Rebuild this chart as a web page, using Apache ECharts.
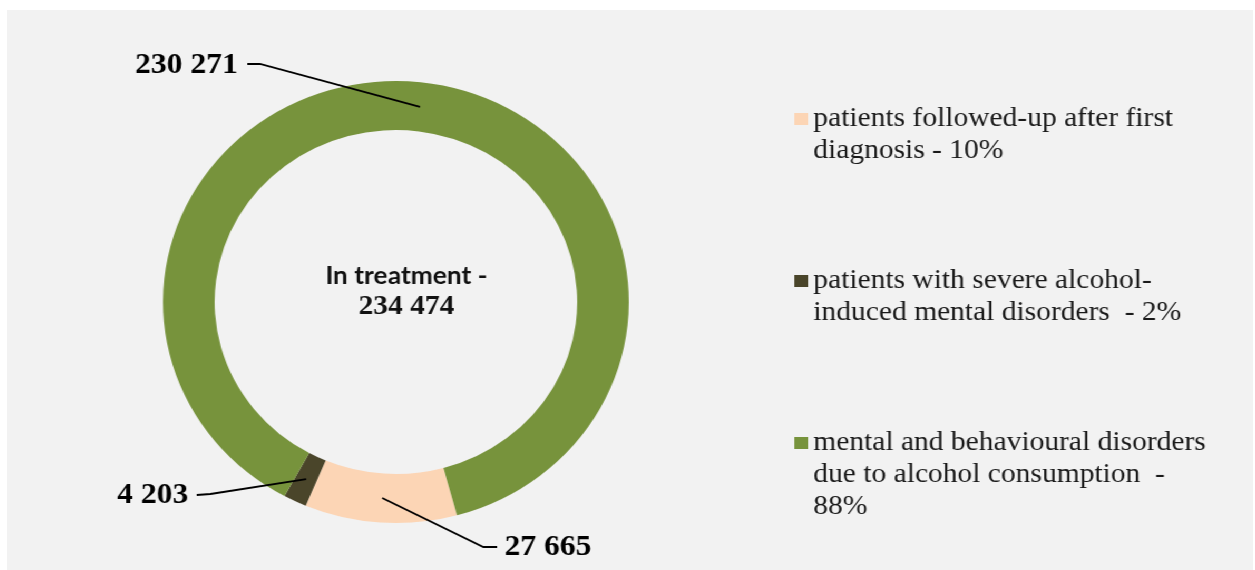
<!DOCTYPE html>
<html lang="en">
<head>
  <meta charset="UTF-8">
  <title>In treatment</title>
  <style>
    html, body {
      padding: 0;
      margin: 0;
      background: #fff;
    }
    /* the source picture is stretched a little sideways, so the chart is too */
    #chart {
      position: absolute;
      left: 7px;
      top: 10px;
      width: 1182px;
      height: 560px;
      background: #f2f2f2;
      transform: scaleX(1.054);
      transform-origin: 0 0;
    }
  </style>
</head>
<body>
  <div id="chart"></div>
  <script src="https://cdn.jsdelivr.net/npm/echarts@6/dist/echarts.min.js"></script>
  <script>
    const categories = [
      'patients followed-up after first diagnosis',
      'patients with severe alcohol-induced mental disorders',
      'mental and behavioural disorders due to alcohol consumption'
    ];
    const values = [27665, 4203, 230271];
    const legendText = [
      'patients followed-up after first\ndiagnosis - 10%',
      'patients with severe alcohol-\ninduced mental disorders  - 2%',
      'mental and behavioural disorders\ndue to alcohol consumption  -\n88%'
    ];
    const centerTitle = 'In treatment -';

    const chart = echarts.init(document.getElementById('chart'));
    const fmt = v => String(v).replace(/\B(?=(\d{3})+(?!\d))/g, ' ');
    const total = values.reduce((a, b) => a + b, 0);
    const treated = values[1] + values[2];

    const cx = 369, cy = 292, r0 = 172, r1 = 221;
    const startAngle = -74.8;

    // leader lines start in the middle of the ring, at the slice's mid angle
    function ringMid(i) {
      let before = 0;
      for (let k = 0; k < i; k++) before += values[k];
      const deg = -startAngle + 360 * (before + values[i] / 2) / total;
      const a = deg * Math.PI / 180;
      const rm = (r0 + r1) / 2;
      return [cx + rm * Math.cos(a), cy + rm * Math.sin(a)];
    }

    const labelSpots = [
      { x: 472, y: 537, align: 'left', bend: [452, 537], end: [465, 537] },
      { x: 172, y: 485, align: 'right', bend: [193, 484], end: [180, 485] },
      { x: 219, y: 55, align: 'right', bend: [240, 54], end: [228, 54] }
    ];
    const legendTops = [61, 223, 353];

    const option = {
      animation: false,
      color: ['#fcd5b5', '#4a452a', '#77933c'],
      title: {
        text: '{a|' + centerTitle + '}\n{b|' + fmt(treated) + '}',
        left: 379,
        top: 250,
        padding: 0,
        textAlign: 'center',
        textStyle: {
          rich: {
            a: { fontFamily: 'Lato', fontWeight: 'bold', fontSize: 25, lineHeight: 31, color: '#111' },
            b: { fontFamily: 'Liberation Serif', fontWeight: 'bold', fontSize: 28, lineHeight: 31, color: '#111' }
          }
        }
      },
      legend: categories.map((name, i) => {
        const lines = legendText[i].split('\n').length;
        // blank lines in front keep the first real line level with the square
        const text = '\n'.repeat(lines - 1) + legendText[i];
        return {
          data: [name],
          orient: 'vertical',
          left: 747,
          top: legendTops[i],
          padding: 0,
          itemWidth: 13,
          itemHeight: 12,
          icon: 'rect',
          selectedMode: false,
          formatter: () => text,
          textStyle: {
            fontFamily: 'Liberation Serif',
            fontSize: 28,
            lineHeight: 32,
            color: '#1a1a1a'
          }
        };
      }),
      graphic: values.map((v, i) => ({
        type: 'polyline',
        silent: true,
        z: 10,
        shape: { points: [ringMid(i), labelSpots[i].bend, labelSpots[i].end] },
        style: { stroke: '#000', lineWidth: 1.8, fill: null }
      })),
      series: [{
        type: 'pie',
        center: [cx, cy],
        radius: [r0, r1],
        startAngle: startAngle,
        clockwise: true,
        silent: true,
        avoidLabelOverlap: false,
        itemStyle: { borderWidth: 0 },
        label: {
          show: true,
          position: 'outside',
          formatter: p => fmt(p.value),
          fontFamily: 'Liberation Serif',
          fontWeight: 'bold',
          fontSize: 30,
          color: '#000'
        },
        labelLine: { show: false },
        labelLayout: p => {
          const s = labelSpots[p.dataIndex];
          return { x: s.x, y: s.y, align: s.align, verticalAlign: 'middle' };
        },
        data: categories.map((name, i) => ({ name: name, value: values[i] }))
      }]
    };
    chart.setOption(option);
  </script>
</body>
</html>
